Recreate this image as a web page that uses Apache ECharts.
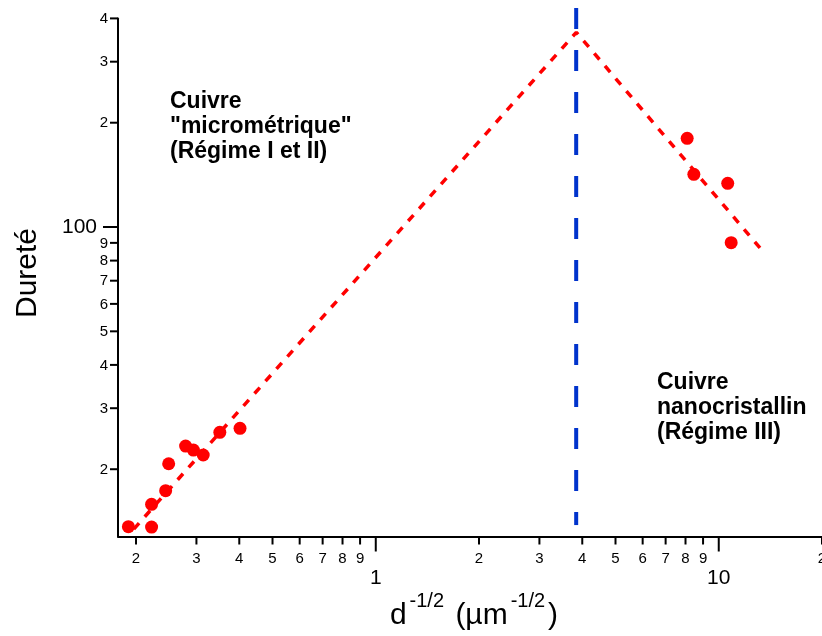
<!DOCTYPE html>
<html>
<head>
<meta charset="utf-8">
<script src="https://cdn.jsdelivr.net/npm/echarts@6/dist/echarts.min.js"></script>
<style>
html,body{margin:0;padding:0;background:#fff;}
#chart{width:822px;height:636px;}
</style>
</head>
<body>
<div id="chart"></div>
<script>
// ---- data ----
const xMicro = [0.190, 0.222, 0.222, 0.244, 0.249, 0.279, 0.294, 0.314, 0.351, 0.402];
const yMicro = [13.65, 13.62, 15.84, 17.34, 20.74, 23.33, 22.71, 21.98, 25.56, 26.24];
const xNano = [8.09, 8.46, 10.62, 10.87];
const yNano = [180.3, 141.9, 133.7, 90.1];
const fitX = [0.197, 3.843, 13.22];
const fitY = [13.44, 364.7, 86.8];
const boundaryX = [3.84, 3.84];
const boundaryY = [428.6, 13.8];

const xTickValues = [0.2,0.3,0.4,0.5,0.6,0.7,0.8,0.9,1,2,3,4,5,6,7,8,9,10,20];
const xTickLabels = ['2','3','4','5','6','7','8','9','1','2','3','4','5','6','7','8','9','10','2'];
const xTickMajor  = [0,0,0,0,0,0,0,0,1,0,0,0,0,0,0,0,0,1,0];
const yTickValues = [20,30,40,50,60,70,80,90,100,200,300,400];
const yTickLabels = ['2','3','4','5','6','7','8','9','100','2','3','4'];
const yTickMajor  = [0,0,0,0,0,0,0,0,1,0,0,0];

const X_MIN = 0.1772, X_MAX = 20;
const Y_MIN = 12.79, Y_MAX = 400;

const FONT = '"Liberation Sans", Arial, Helvetica, sans-serif';

const zip = (a, b) => a.map((v, i) => [v, b[i]]);

const chart = echarts.init(document.getElementById('chart'), null, {renderer: 'canvas'});

function xTickItem(params, api) {
  const i = params.dataIndex;
  const major = xTickMajor[i];
  const p = api.coord([api.value(0), Y_MIN]);
  const len = major ? 15 : 8;
  return {
    type: 'group',
    children: [
      {type: 'line', shape: {x1: p[0], y1: p[1], x2: p[0], y2: p[1] + len},
       style: {stroke: '#000', lineWidth: 2}},
      {type: 'text', x: p[0], y: p[1] + (major ? 42 : 22),
       style: {text: xTickLabels[i], fill: '#000', align: 'center', verticalAlign: 'middle',
               font: (major ? 21 : 15) + 'px ' + FONT}}
    ]
  };
}
function yTickItem(params, api) {
  const i = params.dataIndex;
  const major = yTickMajor[i];
  const p = api.coord([X_MIN, api.value(1)]);
  const len = major ? 15 : 8;
  return {
    type: 'group',
    children: [
      {type: 'line', shape: {x1: p[0] - len, y1: p[1], x2: p[0], y2: p[1]},
       style: {stroke: '#000', lineWidth: 2}},
      {type: 'text', x: p[0] - (major ? 21 : 10), y: p[1] + 0.5,
       style: {text: yTickLabels[i], fill: '#000', align: 'right', verticalAlign: 'middle',
               font: (major ? 21 : 15) + 'px ' + FONT}}
    ]
  };
}

const option = {
  animation: false,
  backgroundColor: '#fff',
  grid: {left: 118, right: 0, top: 18.4, bottom: 99.5, containLabel: false},
  xAxis: {
    type: 'log', logBase: 10, min: X_MIN, max: X_MAX,
    axisLine: {show: true, onZero: false, lineStyle: {color: '#000', width: 2}},
    axisTick: {show: false}, axisLabel: {show: false}, splitLine: {show: false}, minorTick: {show: false}
  },
  yAxis: {
    type: 'log', logBase: 10, min: Y_MIN, max: Y_MAX,
    axisLine: {show: true, onZero: false, lineStyle: {color: '#000', width: 2}},
    axisTick: {show: false}, axisLabel: {show: false}, splitLine: {show: false}, minorTick: {show: false}
  },
  series: [
    {
      type: 'line', data: zip(boundaryX, boundaryY), clip: false, symbol: 'none',
      lineStyle: {color: '#0033cc', width: 4, type: [21, 21]}, z: 2
    },
    {
      type: 'line', data: zip(fitX, fitY), clip: false, symbol: 'none',
      lineStyle: {color: '#ff0000', width: 3.5, type: [8, 8.5]}, z: 3
    },
    {
      type: 'scatter', data: zip(xMicro, yMicro), symbol: 'circle', symbolSize: 13,
      itemStyle: {color: '#ff0000', opacity: 1}, z: 4
    },
    {
      type: 'scatter', data: zip(xNano, yNano), symbol: 'circle', symbolSize: 13,
      itemStyle: {color: '#ff0000', opacity: 1}, z: 4
    },
    {
      type: 'custom', renderItem: xTickItem, data: xTickValues.map(v => [v, Y_MIN]), clip: false, z: 5
    },
    {
      type: 'custom', renderItem: yTickItem, data: yTickValues.map(v => [X_MIN, v]), clip: false, z: 5
    }
  ],
  graphic: [
    {
      type: 'text', left: 170, top: 89,
      style: {text: 'Cuivre\n"micrométrique"\n(Régime I et II)', font: 'bold 23px ' + FONT,
              lineHeight: 25, fill: '#000'}
    },
    {
      type: 'text', left: 657, top: 370,
      style: {text: 'Cuivre\nnanocristallin\n(Régime III)', font: 'bold 23px ' + FONT,
              lineHeight: 25, fill: '#000'}
    },
    {
      type: 'text', x: 27.7, y: 273, rotation: Math.PI / 2,
      style: {text: 'Dureté', font: '30px ' + FONT, fill: '#000', align: 'center', verticalAlign: 'middle'}
    },
    {
      type: 'text', x: 474, y: 616,
      style: {
        text: '{b|d}{s|-1/2}{b| (µm}{s|-1/2}{b|)}',
        align: 'center', verticalAlign: 'middle', fill: '#000',
        rich: {
          b: {fontSize: 30, fontFamily: FONT, lineHeight: 36, fill: '#000'},
          s: {fontSize: 20, fontFamily: FONT, lineHeight: 20, padding: [0, 3, 29, 3], fill: '#000'}
        }
      }
    }
  ]
};
chart.setOption(option);
</script>
</body>
</html>
